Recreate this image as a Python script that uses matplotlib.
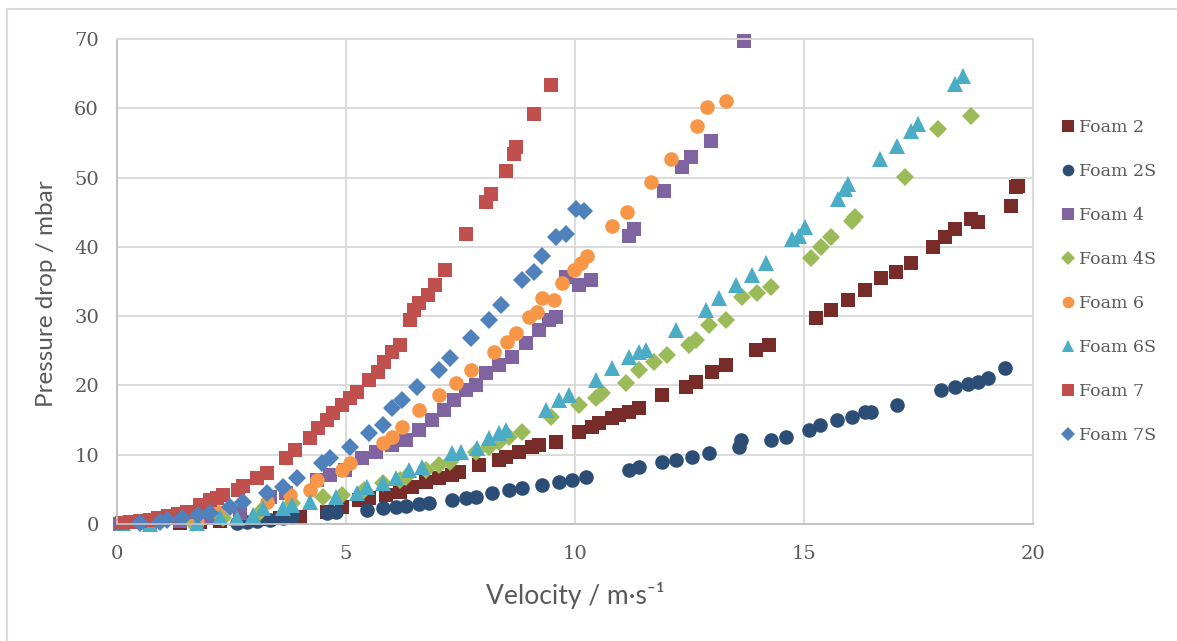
import matplotlib
matplotlib.use("Agg")
import matplotlib.pyplot as plt
from matplotlib.lines import Line2D

# Velocity (m/s) and pressure drop (mbar) for each foam sample
foam2_v = [1.37, 1.81, 2.24, 2.68, 3.12, 3.55, 3.99, 4.58, 4.92, 5.29, 5.51, 5.88, 6.17, 6.45,
           6.75, 7.04, 7.32, 7.47, 7.91, 8.34, 8.50, 8.78, 9.06, 9.22, 9.59, 10.09, 10.37, 10.52,
           10.81, 10.96, 11.18, 11.40, 11.90, 12.42, 12.64, 12.99, 13.29, 13.95, 14.23, 15.27,
           15.60, 15.97, 16.34, 16.69, 17.00, 17.34, 17.82, 18.08, 18.30, 18.65, 18.80, 19.52,
           19.63, 19.67]
foam2_p = [0.14, 0.29, 0.43, 0.58, 0.72, 0.87, 1.01, 1.74, 2.46, 3.47, 3.76, 4.19, 4.63, 5.35,
           6.07, 6.65, 7.09, 7.52, 8.53, 9.25, 9.69, 10.41, 11.13, 11.42, 11.86, 13.30, 14.03, 14.60,
           15.33, 15.76, 16.20, 16.77, 18.65, 19.81, 20.53, 21.98, 22.99, 25.16, 25.88, 29.79,
           30.94, 32.39, 33.84, 35.57, 36.44, 37.74, 40.05, 41.36, 42.51, 43.96, 43.53, 45.84,
           48.59, 48.73]

foam2s_v = [2.61, 2.83, 3.05, 3.33, 3.62, 3.83, 4.58, 4.79, 5.45, 5.80, 6.10, 6.32, 6.60, 6.82,
            7.32, 7.63, 7.84, 8.19, 8.56, 8.85, 9.28, 9.65, 9.94, 10.24, 11.18, 11.40, 11.90,
            12.20, 12.55, 12.92, 13.57, 13.62, 14.29, 14.60, 15.10, 15.36, 15.71, 16.04, 16.34,
            16.47, 17.02, 18.00, 18.30, 18.58, 18.80, 19.02, 19.39]
foam2s_p = [0.14, 0.29, 0.43, 0.58, 0.87, 1.01, 1.59, 1.74, 2.02, 2.31, 2.46, 2.60, 2.89, 3.04,
            3.47, 3.76, 3.90, 4.48, 4.92, 5.21, 5.64, 6.07, 6.36, 6.80, 7.81, 8.24, 8.97,
            9.25, 9.69, 10.27, 11.13, 12.15, 12.15, 12.58, 13.59, 14.32, 15.04, 15.47, 16.20,
            16.20, 17.21, 19.38, 19.81, 20.24, 20.53, 21.11, 22.56]

foam4_v = [0.07, 0.72, 1.37, 2.03, 2.68, 3.33, 3.70, 4.36, 4.64, 4.97, 5.36, 5.66, 6.01, 6.32,
           6.60, 6.88, 7.15, 7.36, 7.63, 7.84, 8.06, 8.34, 8.63, 8.93, 9.22, 9.43, 9.59, 9.80,
           10.09, 10.35, 11.18, 11.29, 11.94, 12.33, 12.53, 12.98, 13.68]
foam4_p = [0.00, 0.14, 0.43, 0.87, 1.59, 3.90, 4.48, 6.36, 7.09, 7.81, 9.54, 10.41, 11.42, 12.15,
           13.59, 15.04, 16.48, 17.93, 19.38, 20.10, 21.83, 22.99, 24.15, 26.17, 28.05, 29.50, 29.93, 35.72,
           34.56, 35.28, 41.50, 42.51, 48.01, 51.48, 52.92, 55.24, 69.70]

foam4s_v = [1.66, 2.31, 3.12, 3.83, 4.49, 4.92, 5.40, 5.80, 6.17, 6.32, 6.75, 7.04, 7.26, 7.84,
            8.13, 8.34, 8.56, 8.85, 9.48, 10.09, 10.46, 10.59, 11.11, 11.40, 11.72, 12.01, 12.49,
            12.64, 12.92, 13.29, 13.64, 13.97, 14.27, 15.16, 15.38, 15.58, 16.04, 16.12, 17.21,
            17.93, 18.65]
foam4s_p = [0.14, 0.87, 1.74, 3.04, 3.90, 4.19, 4.92, 5.93, 6.36, 6.80, 7.81, 8.53, 8.97, 10.41,
            11.13, 11.86, 12.58, 13.30, 15.47, 17.21, 18.22, 18.94, 20.39, 22.27, 23.43, 24.44, 25.88,
            26.61, 28.78, 29.50, 32.82, 33.40, 34.27, 38.46, 40.05, 41.36, 43.67, 44.25, 50.03,
            56.97, 58.85]

foam6_v = [1.74, 2.18, 3.27, 3.77, 4.21, 4.36, 4.92, 5.08, 5.80, 6.01, 6.23, 6.60, 7.04, 7.41,
           7.73, 8.24, 8.52, 8.71, 9.00, 9.17, 9.28, 9.54, 9.72, 9.98, 10.13, 10.26, 10.81, 11.13,
           11.66, 12.09, 12.66, 12.88, 13.29]
foam6_p = [0.29, 1.74, 3.18, 4.19, 4.92, 6.36, 7.81, 8.82, 11.71, 12.58, 14.03, 16.48, 18.65, 20.39,
           22.27, 24.87, 26.32, 27.62, 29.93, 30.66, 32.68, 32.39, 34.85, 36.73, 37.74, 38.61, 42.95, 44.97,
           49.31, 52.63, 57.41, 60.15, 61.02]

foam6s_v = [0.13, 0.72, 1.74, 2.24, 2.61, 2.96, 3.18, 3.62, 3.83, 4.21, 4.79, 5.23, 5.45, 5.80,
            6.10, 6.38, 6.67, 7.32, 7.52, 7.87, 8.13, 8.34, 8.50, 9.37, 9.65, 9.87, 10.46, 10.81,
            11.18, 11.40, 11.55, 12.20, 12.85, 13.14, 13.51, 13.86, 14.16, 14.73, 14.88, 15.03,
            15.75, 15.90, 15.97, 16.67, 17.02, 17.34, 17.49, 18.30, 18.47]
foam6s_p = [0.14, 0.00, 0.14, 1.01, 0.87, 1.30, 2.31, 2.31, 2.75, 3.18, 3.90, 4.48, 5.35, 5.93,
            6.65, 7.81, 8.24, 10.27, 10.41, 10.99, 12.44, 13.16, 13.59, 16.48, 17.93, 18.65, 20.82, 22.56,
            24.15, 24.87, 25.16, 28.05, 30.94, 32.68, 34.56, 36.01, 37.74, 41.07, 41.50, 42.80,
            46.85, 48.30, 49.02, 52.63, 54.51, 56.68, 57.70, 63.48, 64.64]

foam7_v = [0.11, 0.28, 0.50, 0.72, 0.89, 1.11, 1.33, 1.53, 1.81, 2.03, 2.18, 2.31, 2.64, 2.75,
           3.05, 3.27, 3.70, 3.88, 4.21, 4.38, 4.58, 4.71, 4.92, 5.08, 5.25, 5.51, 5.69, 5.84,
           6.01, 6.17, 6.39, 6.49, 6.60, 6.78, 6.95, 7.17, 7.63, 8.06, 8.17, 8.50, 8.67, 8.72,
           9.11, 9.48]
foam7_p = [0.14, 0.29, 0.43, 0.58, 0.87, 1.16, 1.45, 1.74, 2.75, 3.47, 3.76, 4.19, 4.92, 5.50,
           6.65, 7.38, 9.54, 10.70, 12.44, 13.88, 15.04, 16.05, 17.21, 18.22, 19.09, 20.82, 21.98, 23.43,
           24.87, 25.88, 29.50, 30.94, 31.96, 33.11, 34.56, 36.73, 41.79, 46.42, 47.57, 50.90, 53.36, 54.37,
           59.14, 63.33]

foam7s_v = [0.50, 0.94, 1.09, 1.42, 1.76, 2.03, 2.46, 2.75, 3.27, 3.62, 3.92, 4.47, 4.64, 5.08,
            5.51, 5.80, 6.01, 6.23, 6.56, 7.04, 7.26, 7.73, 8.13, 8.39, 8.85, 9.11, 9.28, 9.59,
            9.80, 10.02, 10.20]
foam7s_p = [0.14, 0.29, 0.58, 0.87, 1.30, 1.59, 2.46, 3.18, 4.48, 5.35, 6.65, 8.82, 9.54, 11.13,
            13.16, 14.32, 16.77, 17.93, 19.81, 22.27, 24.00, 26.90, 29.50, 31.67, 35.28, 36.44, 38.61, 41.36,
            41.79, 45.40, 45.11]

series_names = ["Foam 2", "Foam 2S", "Foam 4", "Foam 4S", "Foam 6", "Foam 6S", "Foam 7", "Foam 7S"]
series_data = [(foam2_v, foam2_p), (foam2s_v, foam2s_p), (foam4_v, foam4_p), (foam4s_v, foam4s_p),
               (foam6_v, foam6_p), (foam6s_v, foam6s_p), (foam7_v, foam7_p), (foam7s_v, foam7s_p)]
series_colors = ["#772C2A", "#2C4D75", "#8064A2", "#9BBB59", "#F79646", "#4BACC6", "#C0504D", "#4F81BD"]
series_markers = ["s", "o", "s", "D", "o", "^", "s", "D"]
series_msize = [10, 10.5, 10, 9.5, 10.5, 11, 10, 9.5]

x_ticks = [0, 5, 10, 15, 20]
y_ticks = [0, 10, 20, 30, 40, 50, 60, 70]

W, H = 1177, 641
fig = plt.figure(figsize=(W / 100, H / 100), dpi=100)
fig.patch.set_facecolor("white")

# outer chart frame (left and top edges)
fig.add_artist(Line2D([7 / W, 7 / W], [0, 1 - 9 / H], color="#D9D9D9", lw=1.5))
fig.add_artist(Line2D([7 / W, 1], [1 - 9 / H, 1 - 9 / H], color="#D9D9D9", lw=1.5))

ax = fig.add_axes([117 / W, 1 - 524 / H, (1033 - 117) / W, (524 - 39) / H])
ax.set_xlim(0, 20)
ax.set_ylim(0, 70)
ax.set_xticks(x_ticks)
ax.set_yticks(y_ticks)
ax.grid(True, color="#D9D9D9", lw=1.3)
ax.set_axisbelow(True)
for side in ["top", "right"]:
    ax.spines[side].set_color("#D9D9D9")
    ax.spines[side].set_linewidth(1.3)
for side in ["left", "bottom"]:
    ax.spines[side].set_color("#BFBFBF")
    ax.spines[side].set_linewidth(1.3)
ax.tick_params(axis="x", length=0, pad=15, labelsize=14, labelcolor="#595959")
ax.tick_params(axis="y", length=0, pad=13, labelsize=14, labelcolor="#595959")
for lab in ax.get_xticklabels() + ax.get_yticklabels():
    lab.set_fontfamily("DejaVu Serif")

for name, (v, p), c, m, ms in zip(series_names, series_data, series_colors, series_markers, series_msize):
    ax.plot(v, p, linestyle="none", marker=m, markersize=ms, color=c,
            markeredgewidth=0, label=name, clip_on=False)

ax.set_xlabel("Velocity / m·s⁻¹", fontsize=19, color="#595959", family="Lato", labelpad=14)
ax.set_ylabel("Pressure drop / mbar", fontsize=17.5, color="#595959", family="Lato")
ax.yaxis.set_label_coords(-0.066, 0.475)

leg_handles = [Line2D([], [], linestyle="none", marker=m, markersize=ms * 0.8, color=c, markeredgewidth=0)
               for c, m, ms in zip(series_colors, series_markers, series_msize)]
leg = fig.legend(leg_handles, series_names, loc="center left",
                 bbox_to_anchor=(1053 / W, 1 - 281.5 / H), frameon=False,
                 prop={"family": "DejaVu Serif", "size": 12.5}, labelspacing=1.55,
                 handlelength=0.7, handletextpad=0.3, borderpad=0)
for t in leg.get_texts():
    t.set_color("#595959")

fig.savefig("out.png", dpi=100)
